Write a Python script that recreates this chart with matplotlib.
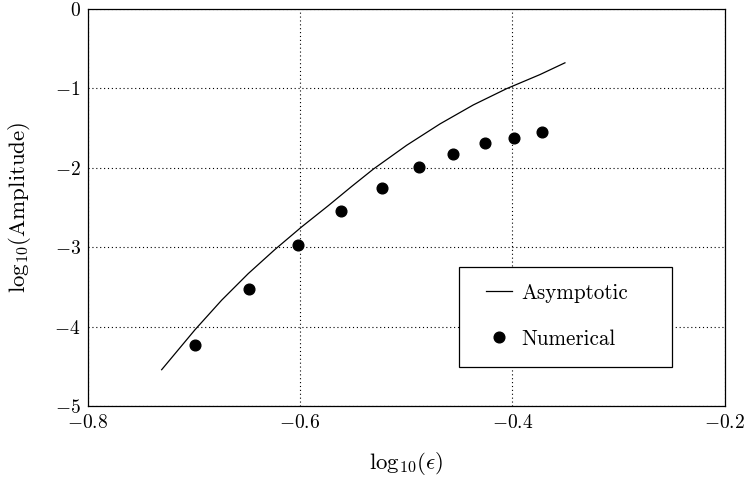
import matplotlib
matplotlib.use("Agg")
import matplotlib.pyplot as plt
from matplotlib.patches import Rectangle

plt.rcParams['font.family'] = ['cmr10', 'DejaVu Serif']
plt.rcParams['mathtext.fontset'] = 'cm'
plt.rcParams['axes.formatter.use_mathtext'] = True

# Asymptotic curve
asym_x = [-0.7303, -0.6989, -0.6738, -0.6487, -0.6236, -0.5984, -0.5733, -0.5513,
          -0.5309, -0.4995, -0.4681, -0.4367, -0.4053, -0.3739, -0.3504]
asym_y = [-4.543, -4.040, -3.668, -3.333, -3.030, -2.745, -2.478, -2.236,
          -2.018, -1.718, -1.449, -1.210, -1.005, -0.828, -0.680]

# Numerical points
num_x = [-0.699, -0.648, -0.602, -0.561, -0.523, -0.488, -0.456, -0.426, -0.398, -0.372]
num_y = [-4.229, -3.528, -2.971, -2.543, -2.250, -1.986, -1.826, -1.692, -1.621, -1.546]

xticks = [-0.8, -0.6, -0.4, -0.2]
yticks = [0, -1, -2, -3, -4, -5]

fig = plt.figure(figsize=(7.48, 4.78), dpi=100)
ax = fig.add_axes([0.1172, 0.1506, 0.8515, 0.831])

ax.plot(asym_x, asym_y, color='black', lw=0.9, label='Asymptotic', solid_joinstyle='round')
ax.plot(num_x, num_y, 'o', color='black', ms=7.7, label='Numerical')

ax.set_xlim(-0.8, -0.2)
ax.set_ylim(-5, 0)
ax.set_xticks(xticks)
ax.set_yticks(yticks)
ax.set_xticklabels([r'$-0.8$', r'$-0.6$', r'$-0.4$', r'$-0.2$'])
ax.set_yticklabels([r'$0$', r'$-1$', r'$-2$', r'$-3$', r'$-4$', r'$-5$'])
ax.tick_params(axis='x', length=0, labelsize=14, pad=6)
ax.tick_params(axis='y', length=0, labelsize=14, pad=5)
ax.grid(True, linestyle=(0, (1, 2.5)), color='black', lw=0.8)
for s in ax.spines.values():
    s.set_linewidth(0.9)

ax.set_xlabel(r'$\mathrm{log}_{10}(\epsilon)$', fontsize=16.5, labelpad=13)
ax.set_ylabel(r'$\mathrm{log}_{10}(\mathrm{Amplitude})$', fontsize=16.5, labelpad=15.5)

# legend frame
frame = Rectangle((0.583, 0.0982), 0.334, 0.2518, transform=ax.transAxes,
                  facecolor='white', edgecolor='black', lw=0.9, zorder=4)
ax.add_patch(frame)
leg = ax.legend(loc='center left', bbox_to_anchor=(0.6254, 0.2266),
                frameon=False, fontsize=15.2, handlelength=1.23, handletextpad=0.43,
                borderpad=0, labelspacing=1.25, borderaxespad=0)
leg.set_zorder(5)

fig.savefig('out.png', dpi=100)
